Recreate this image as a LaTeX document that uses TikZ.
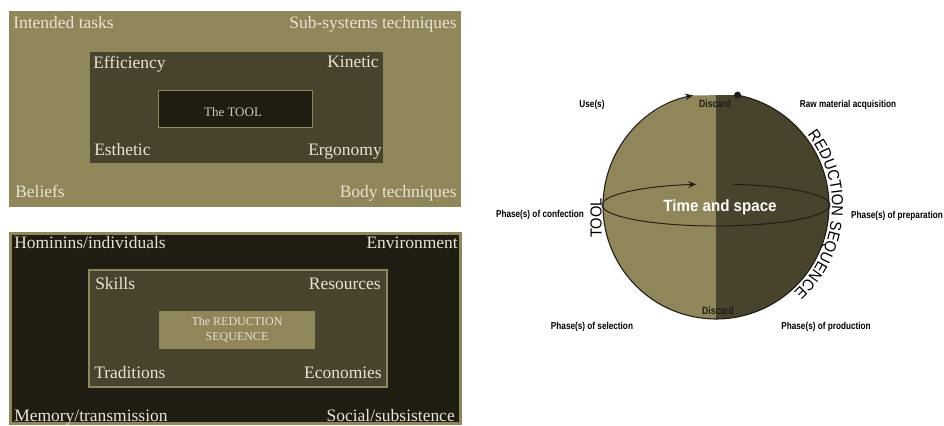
\documentclass[tikz,border=0pt]{standalone}
\usepackage{fontspec}
\setmainfont{Liberation Serif}
\newfontfamily\lblfont[FakeStretch=0.82]{Liberation Sans}
\newfontfamily\tsfont[FakeStretch=0.93]{Liberation Sans}
\newfontfamily\arcfont[FakeStretch=0.92]{Liberation Sans}
\usetikzlibrary{decorations.text,arrows.meta}
\definecolor{olive}{RGB}{143,134,89}
\definecolor{midbrown}{RGB}{72,67,45}
\definecolor{deep}{RGB}{31,28,18}
\definecolor{cream}{RGB}{232,228,212}
\definecolor{greycream}{RGB}{206,202,184}
\definecolor{ink}{RGB}{30,28,20}
\begin{document}
\begin{tikzpicture}[x=0.75pt,y=0.75pt,
  serif/.style={text=cream, font=\fontsize{13.1}{15}\selectfont, inner sep=0pt},
  lbl/.style={text=black, font=\lblfont\bfseries\fontsize{7.5}{9}\selectfont, inner sep=0pt},
  disc/.style={text=ink, font=\lblfont\bfseries\fontsize{7.9}{9}\selectfont, inner sep=0pt},
  tip/.style={-{Stealth[length=6pt,width=5pt]}}
]
\useasboundingbox (0,0) rectangle (944,425);

% ---------- top-left panel: the tool ----------
\fill[olive] (9,218) rectangle (461,414);
\fill[midbrown] (90,262) rectangle (383,373);
\filldraw[fill=deep, draw=olive, line width=1.2pt] (158.5,297.5) rectangle (312.5,334.5);

\node[serif, anchor=base west] (it) at (13,396) {Intended tasks};
\node[serif, anchor=base east] (sst) at (457,396) {Sub-systems techniques};
\node[serif, anchor=base west] (eff) at (93,356) {Efficiency};
\node[serif, anchor=base east] (kin) at (379,357) {Kinetic};
\node[text=greycream, font=\fontsize{9.75}{11}\selectfont, inner sep=0pt] (thetool) at (233,313) {The TOOL};
\node[serif, anchor=base west] (est) at (94,269) {Esthetic};
\node[serif, anchor=base east] (erg) at (382,269) {Ergonomy};
\node[serif, anchor=base west] (bel) at (15,227) {Beliefs};
\node[serif, anchor=base east] (bt) at (457,227) {Body techniques};

% ---------- bottom-left panel: the reduction sequence ----------
\filldraw[fill=deep, draw=olive, line width=2.25pt] (10.5,1.5) rectangle (460.5,191.5);
\filldraw[fill=midbrown, draw=olive, line width=2pt] (89,38) rectangle (387,155);
\fill[olive] (159,76) rectangle (315,114);

\node[serif, anchor=base west] (hom) at (14,177) {Hominins/individuals};
\node[serif, anchor=base east] (env) at (458,177) {Environment};
\node[serif, anchor=base west] (ski) at (95,136) {Skills};
\node[serif, anchor=base east] (res) at (381,136) {Resources};
\node[text=cream, font=\fontsize{9}{11.25}\selectfont, align=center, inner sep=0pt] (thers) at (237,95) {The REDUCTION\\SEQUENCE};
\node[serif, anchor=base west] (tra) at (94,47) {Traditions};
\node[serif, anchor=base east] (eco) at (382,47) {Economies};
\node[serif, anchor=base west] (mem) at (14,4) {Memory/transmission};
\node[serif, anchor=base east] (soc) at (455,4) {Social/subsistence};

% ---------- right: the sphere ----------
\coordinate (C) at (716,219);
\begin{scope}
  \clip ([shift={(79:113)}]C) arc[start angle=79, end angle=-258.3, radius=113] -- cycle;
  \fill[olive] (600,100) rectangle (716,340);
  \fill[midbrown] (716,100) rectangle (835,340);
\end{scope}
\draw[ink, line width=0.8pt, tip] ([shift={(79:113)}]C) coordinate (rawpt)
  arc[start angle=79, end angle=-258.3, radius=113];
\fill[ink] (rawpt) circle[radius=3.5];
\draw[ink, line width=0.7pt, tip] ([shift={(81.4:114 and 21)}]716,220)
  arc[start angle=81.4, end angle=-260, x radius=114, y radius=21];

\node[lbl] (use) at (592,320) {Use(s)};
\node[disc] (discT) at (715,321) {Discard};
\node[lbl] (raw) at (848,320) {Raw material acquisition};
\node[lbl] (conf) at (540,210) {Phase(s) of confection};
\node[lbl] (prep) at (897,209) {Phase(s) of preparation};
\node[lbl] (sel) at (592,98) {Phase(s) of selection};
\node[lbl] (prod) at (826,98) {Phase(s) of production};
\node[disc] (discB) at (718,114) {Discard};
\node[text=white, font=\tsfont\bfseries\fontsize{12.2}{14}\selectfont, inner sep=0pt] (ts) at (720,218) {Time and space};
\node[font=\arcfont\fontsize{12}{14}\selectfont, rotate=90, inner sep=0pt] (tool) at (596,207) {TOOL};
\path[decorate, decoration={text along path, text align=center,
  text={|\arcfont\fontsize{12}{14}\selectfont|REDUCTION SEQUENCE}}]
  ([shift={(80:116)}]C) arc[start angle=80, end angle=-90, radius=116];
\end{tikzpicture}
\end{document}
